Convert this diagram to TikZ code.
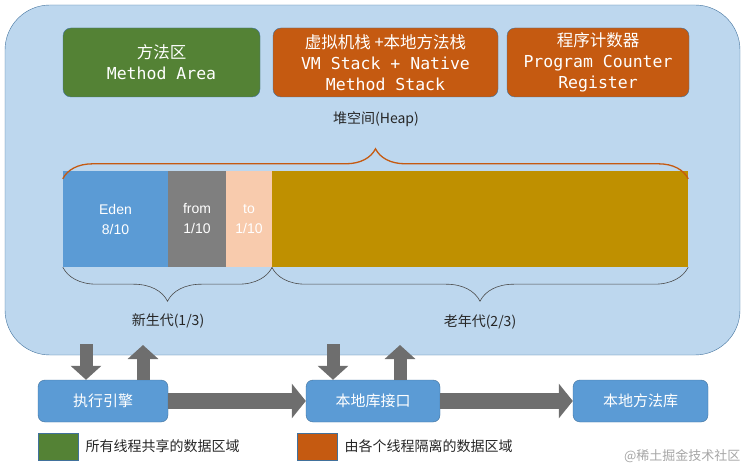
\documentclass[tikz,border=0pt]{standalone}
\usepackage{fontspec}
\setmainfont{Liberation Sans}
\setmonofont{DejaVu Sans Mono}
\newfontfamily\cjk{Noto Sans CJK SC}
\usetikzlibrary{arrows.meta,decorations.pathreplacing}
\definecolor{panel}{HTML}{BDD7EE}
\definecolor{pborder}{HTML}{41719C}
\definecolor{grn}{HTML}{548235}
\definecolor{org}{HTML}{C55A11}
\definecolor{blu}{HTML}{5B9BD5}
\definecolor{gry}{HTML}{7F7F7F}
\definecolor{pch}{HTML}{F8CBAD}
\definecolor{gld}{HTML}{BF9000}
\definecolor{arr}{HTML}{6E6E6E}
\begin{document}
\begin{tikzpicture}[x=1pt,y=-1pt,
  topbox/.style={draw=pborder,rounded corners=8pt,text=white,align=center,font=\fontsize{16.5}{21}\selectfont\ttfamily,inner sep=0pt},
  botbox/.style={draw=pborder,fill=blu,rounded corners=7pt,text=white,font=\fontsize{15}{17}\selectfont\cjk,inner sep=0pt},
  blk/.style={draw=none,inner sep=0pt},
  brace/.style={decorate,decoration={brace,amplitude=30pt,aspect=0.5},draw=org,line width=1.3pt},
  bbrace/.style={decorate,decoration={brace,amplitude=34pt,mirror},draw=black!70,line width=0.6pt},
  varr/.style={draw=arr,line width=13pt,-{Triangle[length=14pt,width=30pt]}},
  harr/.style={draw=arr,line width=16pt,-{Triangle[length=14pt,width=34pt]}},
  lbl/.style={font=\fontsize{14}{16}\selectfont\cjk,text=black!85}]
\useasboundingbox (0,0) rectangle (747,470);
\node[draw=pborder,fill=panel,rounded corners=45pt,minimum width=735pt,minimum height=350pt,inner sep=0pt] (panel) at (372.5,180) {};
\node[topbox,fill=grn,minimum width=197pt,minimum height=69pt] (ma) at (161.5,62.5) {{\cjk 方法区}\\Method Area};
\node[topbox,fill=org,minimum width=225pt,minimum height=69pt] (vm) at (385.5,62.5) {{\cjk 虚拟机栈 +本地方法栈}\\VM Stack + Native\\Method Stack};
\node[topbox,fill=org,minimum width=182pt,minimum height=69pt] (pc) at (598,62.5) {{\cjk 程序计数器}\\Program Counter\\Register};
\node[lbl] (heap) at (376,119) {堆空间(Heap)};
\node[blk,fill=blu,minimum width=105pt,minimum height=96pt,text=white,align=center,font=\fontsize{14}{20}\selectfont] (eden) at (115.5,219) {Eden\\8/10};
\node[blk,fill=gry,minimum width=58pt,minimum height=96pt,text=white,align=center,font=\fontsize{14}{20}\selectfont] (from) at (197,219) {from\\1/10};
\node[blk,fill=pch,minimum width=46pt,minimum height=96pt,text=white,align=center,font=\fontsize{14}{20}\selectfont] (to) at (249,219) {to\\1/10};
\node[blk,fill=gld,minimum width=416pt,minimum height=96pt] (old) at (480,219) {};
\draw[brace] ([yshift=-8pt]eden.north west) -- ([yshift=-8pt]old.north east);
\draw[bbrace] (eden.south west) -- (to.south east);
\draw[bbrace] (old.south west) -- (old.south east);
\node[lbl] (young) at (168,321) {新生代(1/3)};
\node[lbl] (oldl) at (480,322) {老年代(2/3)};
\node[botbox,minimum width=130pt,minimum height=42pt] (exe) at (103,401) {执行引擎};
\node[botbox,minimum width=134pt,minimum height=42pt] (jni) at (373,401) {本地库接口};
\node[botbox,minimum width=135pt,minimum height=42pt] (lib) at (640.5,401) {本地方法库};
\coordinate (a1) at (86,344); \coordinate (a2) at (143,345);
\coordinate (a3) at (333,344); \coordinate (a4) at (400,345);
\draw[varr] (a1) -- (a1 |- exe.north);
\draw[varr] (a2 |- exe.north) -- (a2);
\draw[varr] (a3) -- (a3 |- jni.north);
\draw[varr] (a4 |- jni.north) -- (a4);
\draw[harr] (exe.east) -- (jni.west);
\draw[harr] (jni.east) -- (lib.west);
\node[draw=pborder,fill=grn,minimum width=40pt,minimum height=27pt,inner sep=0pt] (lg) at (58,446.5) {};
\node[lbl,anchor=west] (lgt) at (82,446.5) {所有线程共享的数据区域};
\node[draw=pborder,fill=org,minimum width=40pt,minimum height=27pt,inner sep=0pt] (lo) at (317,446.5) {};
\node[lbl,anchor=west] (lot) at (341,446.5) {由各个线程隔离的数据区域};
\node[font=\fontsize{13}{15}\selectfont\cjk,text=black!35,anchor=east] (wm) at (744,456) {@稀土掘金技术社区};
\end{tikzpicture}
\end{document}
